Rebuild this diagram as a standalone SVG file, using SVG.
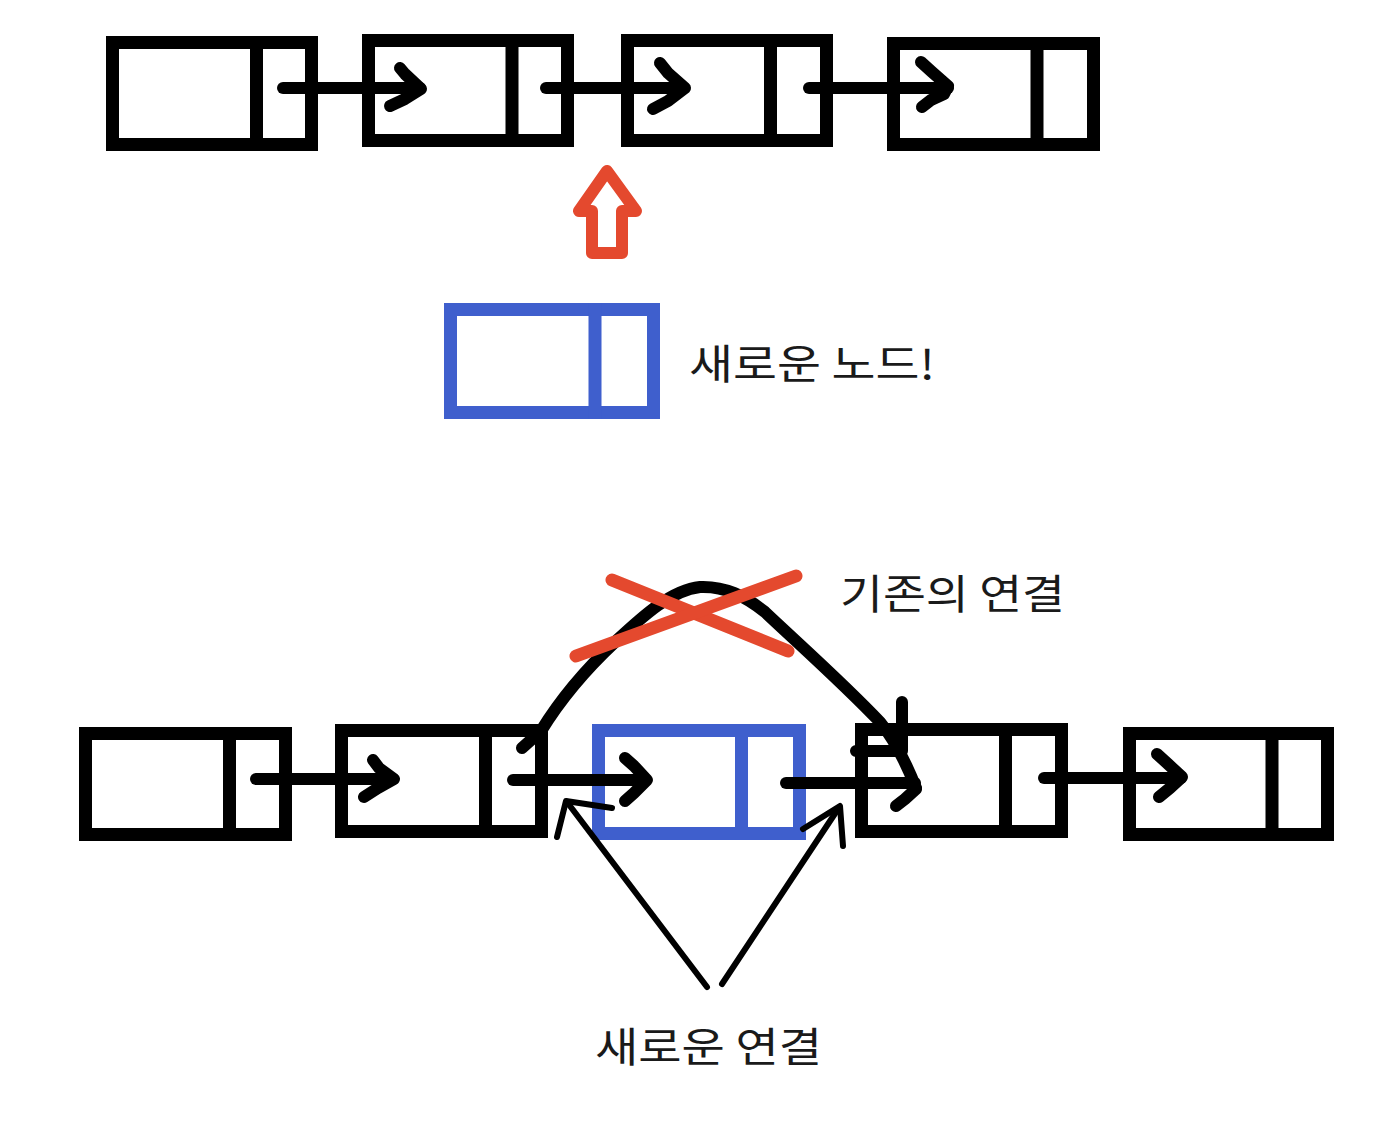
<svg xmlns="http://www.w3.org/2000/svg" width="1380" height="1130" viewBox="0 0 1380 1130">
<style>
.box{fill:#fff;stroke:#000;stroke-width:13}
.div{stroke:#000;stroke-width:13}
.bbox{fill:#fff;stroke:#3F5FCD;stroke-width:13}
.bdiv{stroke:#3F5FCD;stroke-width:13}
.ln{fill:none;stroke:#000;stroke-width:12;stroke-linecap:round;stroke-linejoin:round}
.thin{fill:none;stroke:#000;stroke-width:6;stroke-linecap:round;stroke-linejoin:round}
.red{fill:none;stroke:#E4492E;stroke-width:13;stroke-linecap:round;stroke-linejoin:round}
.lbl{font-family:"Noto Sans CJK KR","Noto Sans",sans-serif;font-size:41px;fill:#1a1a1a}
</style>
<rect width="1380" height="1130" fill="#fff"/>

<!-- top row -->
<g id="top-node-1"><rect class="box" x="112.5" y="42.5" width="199" height="102"/><line class="div" x1="256.5" y1="36" x2="256.5" y2="151"/></g>
<g id="top-node-2"><rect class="box" x="368.5" y="40.5" width="199" height="100"/><line class="div" x1="512" y1="34" x2="512" y2="147"/></g>
<g id="top-node-3"><rect class="box" x="627.5" y="40.5" width="199" height="100"/><line class="div" x1="770.5" y1="34" x2="770.5" y2="147"/></g>
<g id="top-node-4"><rect class="box" x="893.5" y="43.5" width="200" height="101"/><line class="div" x1="1037" y1="37" x2="1037" y2="151"/></g>

<!-- new node -->
<g id="new-node"><rect class="bbox" x="450.5" y="309.5" width="203" height="103"/><line class="bdiv" x1="595" y1="303" x2="595" y2="419"/></g>
<g id="new-node-label"><text class="lbl" x="689" y="379" textLength="246" lengthAdjust="spacingAndGlyphs">새로운 노드!</text></g>

<!-- insert arrow -->
<g id="insert-arrow"><polygon points="607,171 579,211 592,211 592,253 622,253 622,211 636,211" fill="#fff" stroke="#E4492E" stroke-width="12" stroke-linejoin="round"/></g>

<!-- bottom row -->
<g id="bottom-node-1"><rect class="box" x="85.5" y="733.5" width="200" height="101"/><line class="div" x1="229.5" y1="727" x2="229.5" y2="841"/></g>
<g id="bottom-node-2"><rect class="box" x="341.5" y="730.5" width="200" height="101"/><line class="div" x1="485.5" y1="724" x2="485.5" y2="838"/></g>
<g id="bottom-new-node"><rect class="bbox" x="598.5" y="730.5" width="201" height="103"/><line class="bdiv" x1="741.5" y1="724" x2="741.5" y2="840"/></g>
<g id="bottom-node-3"><rect class="box" x="861.5" y="729.5" width="200" height="102"/><line class="div" x1="1005.5" y1="723" x2="1005.5" y2="838"/></g>
<g id="bottom-node-4"><rect class="box" x="1129.5" y="733.5" width="198" height="101"/><line class="div" x1="1272" y1="727" x2="1272" y2="841"/></g>

<g id="connectors">
  <!-- top row -->
  <line class="ln" x1="283" y1="88" x2="420" y2="88"/>
  <polyline class="ln" points="400,68 405,74 421,89 405,99 390,106"/>
  <line class="ln" x1="546" y1="88" x2="684" y2="88"/>
  <polyline class="ln" points="660,63 668,73 685,88 668,101 653,109"/>
  <line class="ln" x1="809" y1="88" x2="948" y2="88"/>
  <polyline class="ln" points="921,62 932,72 948,86 944,94 931,100 922,107"/>
  <!-- bottom row -->
  <line class="ln" x1="256" y1="779" x2="393" y2="779"/>
  <polyline class="ln" points="373,760 379,768 394,779 378,788 364,797"/>
  <line class="ln" x1="513" y1="780" x2="646" y2="780"/>
  <polyline class="ln" points="625,758 634,766 647,780 634,793 625,801"/>
  <line class="ln" x1="786" y1="783" x2="915" y2="783"/>
  <polyline class="ln" points="916,789 905,799 896,806"/>
  <line class="ln" x1="1044" y1="778" x2="1181" y2="778"/>
  <polyline class="ln" points="1157,754 1168,764 1182,777 1170,788 1159,797"/>
  <!-- old connection -->
  <path class="ln" d="M522,748 L541,731 C560,700 585,670 615,642 C645,614 672,590 700,587 C725,586 745,596 765,612 C800,645 845,685 880,722 C893,738 905,760 916,788"/>
  <polyline class="ln" points="902,702 902,751 856,751"/>
  <!-- new connection pointers -->
  <line class="thin" x1="707" y1="987" x2="567" y2="802"/>
  <polyline class="thin" points="557,837 566,801 612,808"/>
  <line class="thin" x1="722" y1="984" x2="838" y2="809"/>
  <polyline class="thin" points="803,829 840,806 843,846"/>
</g>

<g id="cross-mark">
  <line class="red" x1="612" y1="580" x2="788" y2="651"/>
  <line class="red" x1="576" y1="656" x2="796" y2="576"/>
</g>

<g id="old-link-label"><text class="lbl" x="840" y="609" textLength="225" lengthAdjust="spacingAndGlyphs">기존의 연결</text></g>
<g id="new-link-label"><text class="lbl" x="595" y="1062" textLength="227" lengthAdjust="spacingAndGlyphs">새로운 연결</text></g>
</svg>
